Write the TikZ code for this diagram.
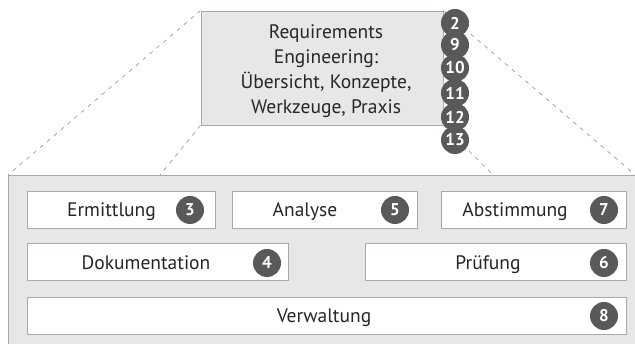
\documentclass[tikz,border=0pt]{standalone}
\usepackage{fontspec}
\setmainfont{PT Sans}
\definecolor{areagray}{HTML}{E6E7E8}
\definecolor{linegray}{HTML}{A7A9AC}
\definecolor{dashgray}{HTML}{8C8C8C}
\definecolor{numgray}{HTML}{58595B}
\begin{document}
\begin{tikzpicture}[x=1pt,y=-1pt]

        \tikzstyle{areabox} = [draw=linegray, fill=areagray, line width=0.9pt, inner sep=0];
        \tikzstyle{stepbox} = [draw=linegray, fill=white, line width=0.9pt, inner sep=0, minimum height=37pt];
        \tikzstyle{steptext} = [font=\fontsize{19.5}{22}\selectfont, text=black!85, inner sep=0, anchor=base];
        \tikzstyle{numnode} = [circle, fill=numgray, text=white, font=\fontsize{17}{17}\selectfont\bfseries, minimum size=28pt, inner sep=0];
        \tikzstyle{zoomline} = [dashgray, line width=0.6pt, dash pattern=on 4pt off 5pt];

        \clip (0,0) rectangle (635,344);

        % Bottom - Area
        \node[areabox, anchor=north west, minimum width=650pt, minimum height=190pt] (RA) at (8,175) {};
        \coordinate (RAL) at (160,175);
        \coordinate (RAR) at (493,175);
        \coordinate (RAE) at (640,179);

        % Top - Book
        \node[areabox, minimum width=242pt, minimum height=114pt] (RE) at (322,68) {};
        \draw [zoomline] (RE.north west) -- (RA.north west);
        \draw [zoomline] (RE.south west) -- (RAL);
        \draw [zoomline] (RE.south east) -- (RAR);
        \draw [zoomline] (RE.north east) -- (RAE);
        \node[steptext, anchor=center, align=center, font=\fontsize{19.5}{25}\selectfont] (RET) at (326,71)
            {Requirements\\Engineering:\\Übersicht, Konzepte,\\Werkzeuge, Praxis};

        \node[numnode] (B13) at (455,140) {13};
        \node[numnode] (B12) at (455,117) {12};
        \node[numnode] (B11) at (455,93) {11};
        \node[numnode] (B10) at (455,68) {10};
        \node[numnode] (B9) at (455,45) {9};
        \node[numnode] (B2) at (455,23) {2};

        % Row 1
        \node[stepbox, minimum width=188pt] (ERM) at (121,209.5) {};
        \node[steptext] (ERMT) at (111.5,217) {Ermittlung};
        \node[numnode] (N3) at (190,210) {3};

        \node[stepbox, minimum width=185pt] (ANA) at (324.5,209.5) {};
        \node[steptext] (ANAT) at (305,217) {Analyse};
        \node[numnode] (N5) at (395,210) {5};

        \node[stepbox, minimum width=185pt] (ABS) at (533.5,209.5) {};
        \node[steptext] (ABST) at (515,217) {Abstimmung};
        \node[numnode] (N7) at (604,210) {7};

        % Row 2
        \node[stepbox, minimum width=261pt] (DOK) at (157.5,262) {};
        \node[steptext] (DOKT) at (146,270) {Dokumentation};
        \node[numnode] (N4) at (267,263) {4};

        \node[stepbox, minimum width=261pt] (PRU) at (495.5,262) {};
        \node[steptext] (PRUT) at (488,270) {Prüfung};
        \node[numnode] (N6) at (604,263) {6};

        % Row 3
        \node[stepbox, minimum width=599pt] (VER) at (326.5,315.5) {};
        \node[steptext] (VERT) at (324,323) {Verwaltung};
        \node[numnode] (N8) at (604,316) {8};

    \end{tikzpicture}
\end{document}
